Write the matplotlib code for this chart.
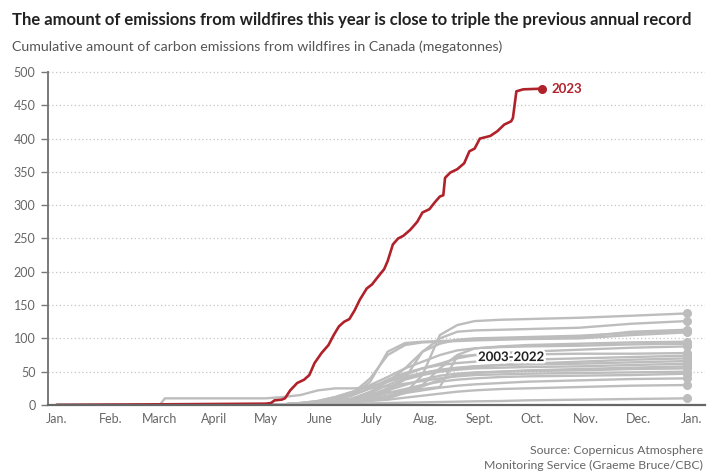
import numpy as np
import matplotlib.pyplot as plt
import matplotlib.patheffects as pe

plt.rcParams['font.family'] = ['Lato', 'DejaVu Sans']

# ---------------------------------------------------------------
# data, day-of-year vs megatonnes
# ---------------------------------------------------------------
month_days = [0, 31, 59, 90, 120, 151, 181, 212, 243, 273, 304, 334, 365]
month_labels = ['Jan.', 'Feb.', 'March', 'April', 'May', 'June', 'July',
                'Aug.', 'Sept.', 'Oct.', 'Nov.', 'Dec.', 'Jan.']

days_2023 = [0, 31, 59, 90, 120, 123, 125, 129, 131, 134, 138, 142, 145, 148,
             152, 156, 159, 162, 165, 168, 171, 174, 178, 181, 184, 188, 190,
             193, 196, 199, 203, 207, 210, 214, 217, 220, 222, 223, 226, 230,
             234, 237, 240, 243, 249, 253, 257, 261, 262, 264, 268, 279]
vals_2023 = [0, 0.5, 1, 1.5, 2, 3, 7, 8, 10, 22, 33, 38, 45, 63,
             78, 90, 105, 118, 125, 129, 142, 158, 175, 181, 191, 204, 216,
             241, 250, 254, 263, 275, 289, 294, 304, 313, 315, 341, 349, 354,
             363, 381, 385, 400, 404, 411, 421, 426, 431, 471, 474, 475]

days_hist = [0, 59, 62, 120, 130, 140, 150, 160, 170, 180, 190, 200, 210,
             220, 230, 240, 255, 270, 300, 330, 362]
# one row per year, 2003-2022 (order not identified in the source)
vals_hist = [
    [0, 0, 0, 0.5, 1, 2, 3, 4, 5, 7, 10, 18, 45, 105, 120, 126, 128, 129, 131, 134, 137.5],
    [0, 0, 0, 0.5, 1, 2, 3, 5, 8, 12, 20, 40, 80, 100, 110, 112, 113, 114, 116, 122, 126],
    [0, 0, 0, 0.5, 1, 2, 4, 8, 15, 35, 80, 93, 95, 96, 97, 98, 100, 100, 102, 110, 113],
    [0, 0, 0, 0.5, 1, 2, 3, 5, 10, 20, 35, 55, 80, 92, 98, 100, 101, 102, 104, 108, 111],
    [0, 0, 0, 0.5, 1, 3, 5, 10, 18, 40, 75, 90, 94, 95, 96, 97, 98, 99, 100, 105, 109],
    [0, 0, 0, 0.5, 1, 1, 2, 3, 5, 8, 12, 20, 30, 55, 75, 85, 88, 90, 92, 94, 95],
    [0, 0, 0, 0.5, 1, 3, 6, 12, 20, 30, 42, 55, 65, 75, 82, 85, 87, 88, 89, 91, 92],
    [0, 0, 0, 0.5, 1, 2, 4, 8, 15, 25, 35, 45, 55, 62, 70, 75, 78, 80, 83, 86, 88],
    [0, 0, 0, 0.5, 1, 2, 3, 5, 8, 12, 18, 22, 24, 27, 73, 75, 76, 76, 77, 77, 78],
    [0, 0, 0, 0.5, 1, 2, 4, 8, 15, 25, 38, 48, 55, 60, 63, 65, 67, 68, 70, 72, 74],
    [0, 0, 0, 0.5, 1, 3, 6, 12, 20, 28, 35, 42, 48, 52, 55, 58, 60, 62, 65, 68, 70],
    [0, 0, 0, 0.5, 1, 2, 4, 6, 10, 18, 30, 40, 48, 53, 56, 58, 60, 61, 62, 64, 66],
    [0, 0, 0, 0.5, 1, 2, 3, 5, 8, 15, 25, 38, 45, 50, 53, 55, 56, 57, 58, 60, 62],
    [0, 0, 0, 0.5, 1, 2, 3, 4, 6, 9, 14, 20, 28, 38, 45, 48, 50, 52, 54, 56, 58],
    [0, 0, 0, 0.5, 1, 2, 3, 5, 9, 15, 22, 30, 38, 44, 47, 49, 50, 51, 52, 54, 55],
    [0, 0, 10, 10, 12, 15, 22, 25, 25, 26, 28, 32, 36, 40, 43, 45, 46, 47, 48, 49, 50],
    [0, 0, 0, 0.5, 1, 2, 3, 5, 8, 12, 18, 24, 30, 35, 38, 40, 42, 43, 44, 45, 47],
    [0, 0, 0, 0.5, 1, 2, 3, 4, 6, 9, 13, 18, 22, 26, 29, 31, 33, 35, 37, 39, 40],
    [0, 0, 0, 0.3, 0.5, 1, 2, 3, 4, 6, 8, 11, 14, 17, 20, 22, 24, 25, 27, 29, 30],
    [0, 0, 0, 0.3, 0.5, 1, 1, 1.5, 2, 2.5, 3, 3.5, 4, 4.5, 5, 5.5, 6, 7, 8, 9, 10],
]

red = '#b0222b'
grey = '#bdbdbd'

fig = plt.figure(figsize=(7.1, 4.72), dpi=100)
ax = fig.add_axes([48/710, 67/472, 657/710, 335/472])

for v in vals_hist:
    ax.plot(days_hist, v, color=grey, lw=1.7, zorder=2, solid_capstyle='round')
    ax.plot(days_hist[-1], v[-1], 'o', color=grey, ms=5.5, zorder=2)

ax.plot(days_2023, vals_2023, color=red, lw=1.9, zorder=4)
ax.plot(days_2023[-1], vals_2023[-1], 'o', color=red, ms=5.5, zorder=4)

ax.text(days_2023[-1] + 5, vals_2023[-1], '2023', color=red, fontsize=9.5,
        fontweight='bold', va='center', ha='left', zorder=5)
ax.text(261, 72, '2003-2022', color='#222222', fontsize=9.5, fontweight='bold',
        va='center', ha='center', zorder=5,
        path_effects=[pe.withStroke(linewidth=3.5, foreground='white')])

ax.set_xlim(-5.2, 372.4)
ax.set_ylim(0, 503)
ax.set_xticks(month_days)
ax.set_xticklabels(month_labels)
ax.set_yticks(np.arange(0, 501, 50))
ax.grid(axis='y', color='#c4c4c4', linestyle=(0, (1, 2)), lw=0.9, zorder=0)
ax.tick_params(axis='x', length=0, pad=6, labelsize=9, labelcolor='#666666')
ax.tick_params(axis='y', length=5, width=1, color='#777777', pad=4,
               labelsize=9, labelcolor='#666666')
for s in ['top', 'right']:
    ax.spines[s].set_visible(False)
ax.spines['left'].set_color('#7a7a7a')
ax.spines['left'].set_linewidth(1.4)
ax.spines['left'].set_bounds(0, 500)
ax.spines['bottom'].set_color('#666666')
ax.spines['bottom'].set_linewidth(1.6)
ax.spines['bottom'].set_zorder(6)

fig.text(12/710, 1 - 20/472, 'The amount of emissions from wildfires this year is close to triple the previous annual record',
         fontsize=12, fontweight='bold', color='#222222', va='center', ha='left')
fig.text(12/710, 1 - 47/472, 'Cumulative amount of carbon emissions from wildfires in Canada (megatonnes)',
         fontsize=10.2, color='#555555', va='center', ha='left')
fig.text(703/710, 1 - 450/472, 'Source: Copernicus Atmosphere', fontsize=8.8,
         color='#666666', va='center', ha='right')
fig.text(703/710, 1 - 465/472, 'Monitoring Service (Graeme Bruce/CBC)', fontsize=8.8,
         color='#666666', va='center', ha='right')

fig.savefig('out.png', dpi=100)
